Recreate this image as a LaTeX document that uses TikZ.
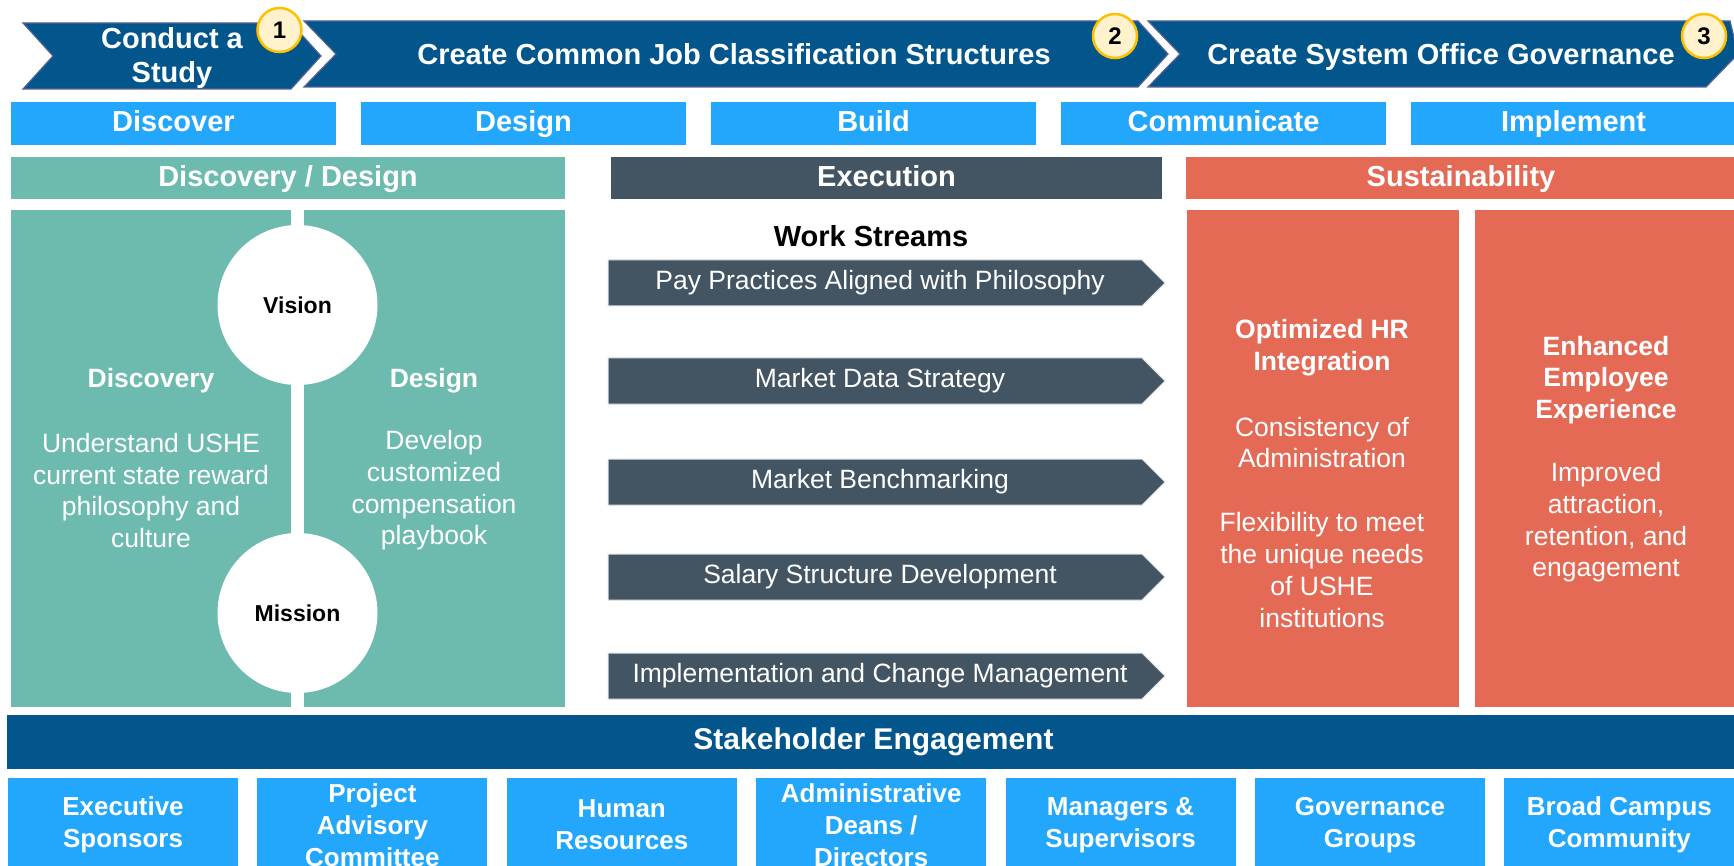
\documentclass[tikz,border=0pt]{standalone}
\usepackage{fontspec}
\setmainfont{Liberation Sans}
\definecolor{chevblue}{RGB}{3,86,140}
\definecolor{chevedge}{RGB}{84,98,150}
\definecolor{phaseblue}{RGB}{34,167,252}
\definecolor{tealc}{RGB}{108,187,174}
\definecolor{slatec}{RGB}{67,85,99}
\definecolor{coralc}{RGB}{228,106,86}
\definecolor{badgefill}{RGB}{255,242,204}
\definecolor{badgeedge}{RGB}{255,192,0}
\begin{document}
\begin{tikzpicture}[x=1pt,y=-1pt,
  chev/.style={fill=chevblue, draw=chevedge, line width=1.2pt},
  chevtxt/.style={text=white, font=\fontsize{29}{34}\selectfont\bfseries, align=center, inner sep=0pt},
  strut/.style={text height=21pt, text depth=4pt},
  badge/.style={circle, fill=badgefill, draw=badgeedge, line width=2.5pt, minimum size=44pt, inner sep=0pt, font=\fontsize{24}{24}\selectfont\bfseries},
  phase/.style={fill=phaseblue, minimum width=325pt, minimum height=43pt, inner sep=0pt, text=white, font=\fontsize{29}{34}\selectfont\bfseries, strut},
  hdr/.style={minimum height=42pt, inner sep=0pt, text=white, font=\fontsize{29}{34}\selectfont\bfseries, strut},
  panel/.style={inner sep=0pt, minimum height=497pt},
  headtxt/.style={text=white, font=\fontsize{26.5}{31.5}\selectfont\bfseries, align=center, inner sep=0pt},
  bodytxt/.style={text=white, font=\fontsize{26.5}{31.7}\selectfont, align=center, inner sep=0pt},
  vm/.style={circle, fill=white, minimum size=160pt, inner sep=0pt, font=\fontsize{23}{23}\selectfont\bfseries},
  wsarrow/.style={fill=slatec, draw=white!82!slatec, line width=1pt},
  wstxt/.style={text=white, font=\fontsize{26.5}{30}\selectfont, inner sep=0pt},
  sbox/.style={fill=phaseblue, minimum width=230pt, minimum height=94pt, inner sep=0pt, text=white, font=\fontsize{26}{32}\selectfont\bfseries, align=center},
]
\fill[white] (0,0) rectangle (1734,866);
\useasboundingbox (0,0) rectangle (1734,866);

% top chevrons
\path[chev] (23,23) -- (291,23) -- (321,56) -- (291,89) -- (23,89) -- (53,56) -- cycle;
\path[chev] (304,21) -- (1138,21) -- (1168,54) -- (1138,87) -- (304,87) -- (336,54) -- cycle;
\path[chev] (1148,21) -- (1730,21) -- (1738,54) -- (1706,87) -- (1148,87) -- (1180,54) -- cycle;
\node[chevtxt] (c1) at (172,58) {Conduct a\\Study};
\node[chevtxt, text height=21pt, text depth=6pt] (c2) at (734,57.5) {Create Common Job Classification Structures};
\node[chevtxt, text height=21pt, text depth=6pt] (c3) at (1441,57.5) {Create System Office Governance};
\node[badge] (b1) at (279.5,30) {1};
\node[badge] (b2) at (1115,36) {2};
\node[badge] (b3) at (1704,36) {3};

% phase boxes
\node[phase] (p1) at (173.5,123.5) {Discover};
\node[phase] (p2) at (523.5,123.5) {Design};
\node[phase] (p3) at (873.5,123.5) {Build};
\node[phase] (p4) at (1223.5,123.5) {Communicate};
\node[phase] (p5) at (1573.5,123.5) {Implement};

% section headers
\node[hdr, fill=tealc, minimum width=554pt] (hdd) at (288,178) {Discovery / Design};
\node[hdr, fill=slatec, minimum width=551pt] (hex) at (886.5,178) {Execution};
\node[hdr, fill=coralc, minimum width=550pt] (hsu) at (1461,178) {Sustainability};

% discovery / design panel
\node[panel, fill=tealc, minimum width=280pt] (tl) at (151,458.5) {};
\node[panel, fill=tealc, minimum width=261pt] (tr) at (434.5,458.5) {};
\node[vm] (vision) at (297.5,305) {Vision};
\node[vm] (mission) at (297.5,613) {Mission};
\node[headtxt] (dish) at (151,381) {Discovery};
\node[bodytxt] (disb) at (151,490.5) {Understand USHE\\current state reward\\philosophy and\\culture};
\node[headtxt] (desh) at (434,381) {Design};
\node[bodytxt] (desb) at (434,490.5) {Develop\\customized\\compensation\\playbook};

% execution work streams
\node[font=\fontsize{29}{34}\selectfont\bfseries, inner sep=0pt] (wsh) at (871,236) {Work Streams};
\foreach \t/\lab [count=\i] in {260/{Pay Practices Aligned with Philosophy}, 358/{Market Data Strategy}, 459/{Market Benchmarking}, 554/{Salary Structure Development}, 653/{Implementation and Change Management}} {
  \path[wsarrow] (608,\t) -- (1142,\t) -- (1165,{\t+23}) -- (1142,{\t+46}) -- (608,{\t+46}) -- cycle;
  \node[wstxt] (ws\i) at (880,{\t+23}) {\lab};
}

% sustainability panels
\node[panel, fill=coralc, minimum width=272pt] (sl) at (1323,458.5) {};
\node[panel, fill=coralc, minimum width=263pt] (sr) at (1606.5,458.5) {};
\node[headtxt] (slh) at (1322,347.5) {Optimized HR\\Integration};
\node[bodytxt] (slb1) at (1322,442.5) {Consistency of\\Administration};
\node[bodytxt] (slb2) at (1322,570) {Flexibility to meet\\the unique needs\\of USHE\\institutions};
\node[headtxt] (srh) at (1606,380) {Enhanced\\Employee\\Experience};
\node[bodytxt] (srb) at (1606,522.5) {Improved\\attraction,\\retention, and\\engagement};

% stakeholder engagement
\node[fill=chevblue, minimum width=1733pt, minimum height=54pt, inner sep=0pt, text=white, font=\fontsize{30}{34}\selectfont\bfseries] (stake) at (873.5,742) {Stakeholder Engagement};
\foreach \lab [count=\i from 0] in {{Executive\\Sponsors}, {Project\\Advisory\\Committee}, {Human\\Resources}, {Administrative\\Deans /\\Directors}, {Managers \&\\Supervisors}, {Governance\\Groups}, {Broad Campus\\Community}} {
  \node[sbox] (s\i) at ({123+249.4*\i},825) {\lab};
}
\end{tikzpicture}
\end{document}
